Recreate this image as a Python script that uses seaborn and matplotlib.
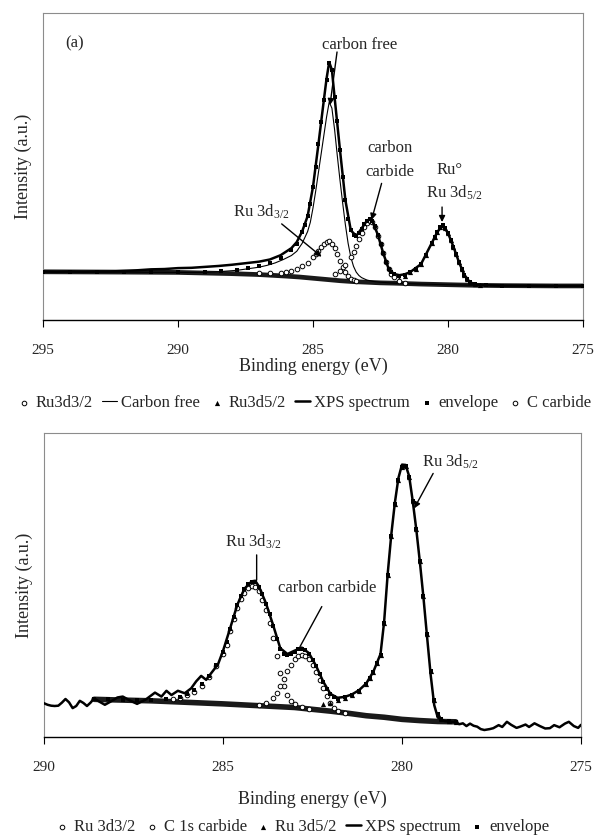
import matplotlib
matplotlib.use("Agg")
import matplotlib.pyplot as plt
import seaborn as sns

# ---------------- top panel (a) ----------------
e_bg_top = [295.0, 292.0, 290.0, 289.0, 288.0, 287.0, 286.0, 285.5, 285.0, 284.5, 284.0,
            283.5, 283.0, 282.5, 282.0, 281.0, 280.0, 279.0, 278.0, 276.0, 275.0]
bg_top = [15.7, 15.6, 15.5, 15.3, 15.1, 14.8, 14.3, 14.0, 13.6, 13.2, 12.8,
          12.5, 12.3, 12.1, 12.0, 11.7, 11.5, 11.3, 11.2, 11.1, 11.1]

e_cf_top = [295.0, 292.0, 290.0, 289.0, 288.4, 287.8, 287.4, 287.0, 286.7, 286.4, 286.1, 285.8,
            285.6, 285.4, 285.2, 285.1, 285.0, 284.9, 284.8, 284.7, 284.6, 284.5, 284.4, 284.3,
            284.2, 284.1, 284.0, 283.9, 283.8, 283.7, 283.6, 283.5, 283.4, 283.3, 283.2, 283.0,
            282.8, 282.5, 282.0, 281.0, 280.0, 279.0, 277.0, 275.0]
cf_top = [15.7, 15.6, 15.5, 15.5, 15.8, 16.2, 16.7, 17.2, 17.8, 18.6, 19.7, 21.0,
          22.4, 25.0, 28.8, 31.8, 36.5, 42.0, 48.0, 54.0, 60.0, 66.0, 71.0, 69.0,
          62.0, 53.5, 45.5, 38.0, 31.0, 25.0, 20.5, 17.5, 15.6, 14.5, 13.8, 13.0,
          12.6, 12.3, 12.0, 11.7, 11.5, 11.3, 11.2, 11.1]

e_r3_top = [287.0, 286.6, 286.2, 286.0, 285.8, 285.6, 285.4, 285.2, 285.0, 284.9, 284.8, 284.7,
            284.6, 284.5, 284.4, 284.3, 284.2, 284.1, 284.0, 283.9, 283.8, 283.7, 283.6, 283.5, 283.4]
r3_top = [15.2, 15.2, 15.3, 15.5, 15.9, 16.5, 17.7, 18.7, 20.5, 21.5, 22.6, 23.8,
          24.8, 25.5, 25.7, 24.9, 23.3, 21.5, 19.3, 17.3, 15.5, 14.3, 13.5, 13.1, 12.7]

e_cc_top = [284.2, 284.0, 283.8, 283.6, 283.5, 283.4, 283.3, 283.2, 283.1, 283.0, 282.9,
            282.8, 282.7, 282.6, 282.5, 282.4, 282.3, 282.2, 282.1, 282.0, 281.8, 281.6]
cc_top = [15.0, 16.1, 17.9, 20.4, 22.2, 24.1, 26.3, 28.4, 30.4, 31.7, 32.3,
          31.8, 30.2, 27.5, 24.7, 21.7, 18.9, 16.6, 15.0, 13.9, 12.7, 12.2]

e_r5_top = [281.8, 281.6, 281.4, 281.2, 281.0, 280.8, 280.6, 280.5, 280.4, 280.3, 280.2, 280.1,
            280.0, 279.9, 279.8, 279.7, 279.6, 279.5, 279.4, 279.3, 279.2, 279.0, 278.8]
r5_top = [13.4, 14.4, 15.6, 16.7, 18.2, 21.2, 25.1, 26.9, 28.6, 30.2, 30.9, 30.1,
          28.3, 26.1, 23.9, 21.5, 19.0, 16.7, 14.8, 13.3, 12.4, 11.6, 11.4]

e_env_top = [295.0, 294.0, 293.0, 292.0, 291.0, 290.0, 289.0, 288.4, 287.8, 287.4,
             287.0, 286.6, 286.2, 285.8, 285.6, 285.4, 285.3, 285.2, 285.1, 285.0,
             284.9, 284.8, 284.7, 284.6, 284.5, 284.4, 284.3, 284.2, 284.1, 284.0,
             283.9, 283.8, 283.7, 283.6, 283.5, 283.4, 283.3, 283.2, 283.1, 283.0,
             282.9, 282.8, 282.7, 282.6, 282.5, 282.4, 282.3, 282.2, 282.1, 282.0,
             281.8, 281.6, 281.4, 281.2, 281.0, 280.8, 280.6, 280.5, 280.4, 280.3,
             280.2, 280.1, 280.0, 279.9, 279.8, 279.7, 279.6, 279.5, 279.4, 279.3,
             279.2, 279.0, 278.6, 278.0, 277.0, 276.0, 275.0]
env_top = [15.7, 15.7, 15.6, 15.6, 15.5, 15.5, 15.5, 15.9, 16.3, 17.0,
           17.6, 18.7, 20.2, 22.7, 24.9, 28.8, 31.1, 33.8, 37.7, 43.4,
           50.0, 57.2, 64.4, 71.5, 78.3, 83.8, 81.5, 72.5, 64.7, 55.3,
           46.7, 39.0, 33.0, 29.2, 27.6, 27.4, 28.4, 29.8, 31.4, 32.4,
           32.8, 32.2, 30.5, 27.8, 24.9, 21.8, 19.0, 16.7, 15.6, 15.0,
           14.3, 14.7, 15.6, 16.7, 18.2, 21.2, 25.1, 26.9, 28.6, 30.2,
           30.9, 30.1, 28.3, 26.1, 23.9, 21.5, 19.0, 16.7, 14.8, 13.3,
           12.4, 11.6, 11.3, 11.2, 11.2, 11.1, 11.1]

e_xps_top = [295.0, 294.5, 294.0, 293.5, 293.0, 292.5, 292.0, 291.5, 291.0, 290.5,
             290.0, 289.5, 289.0, 288.5, 288.0, 287.5, 287.0, 286.6, 286.2, 285.8,
             285.6, 285.4, 285.2, 285.0, 284.8, 284.6, 284.5, 284.4, 284.3, 284.2,
             284.0, 283.8, 283.6, 283.4, 283.2, 283.0, 282.9, 282.8, 282.6, 282.4,
             282.2, 282.0, 281.8, 281.6, 281.4, 281.0, 280.6, 280.4, 280.2, 280.0,
             279.8, 279.6, 279.4, 279.2, 279.0, 278.5, 278.0, 277.0, 276.0, 275.0]
xps_top = [15.8, 15.7, 15.8, 15.7, 15.8, 15.8, 16.0, 16.2, 16.5, 16.6,
           16.9, 17.0, 17.3, 17.6, 18.0, 18.5, 19.0, 19.7, 21.1, 23.4,
           25.4, 28.9, 33.8, 43.4, 57.2, 71.5, 78.5, 84.0, 81.5, 72.5,
           55.3, 39.0, 29.2, 27.4, 29.8, 32.4, 32.8, 32.2, 27.8, 21.8,
           16.7, 15.0, 14.6, 14.9, 15.6, 18.2, 25.1, 28.6, 30.9, 28.3,
           23.9, 19.0, 14.8, 12.4, 11.6, 11.3, 11.2, 11.2, 11.1, 11.1]

# ---------------- bottom panel ----------------
e_bg_bot = [288.6, 288.0, 287.0, 286.0, 285.0, 284.0, 283.0, 282.5, 282.0, 281.5,
            281.0, 280.5, 280.0, 279.5, 279.0, 278.5]
bg_bot = [12.4, 12.2, 11.9, 11.4, 10.9, 10.3, 9.7, 9.1, 8.5, 7.8,
          7.0, 6.5, 5.8, 5.4, 5.1, 5.0]

e_r3_bot = [286.4, 286.2, 286.0, 285.8, 285.6, 285.4, 285.2, 285.0, 284.9, 284.8,
            284.7, 284.6, 284.5, 284.4, 284.3, 284.2, 284.1, 284.0, 283.9, 283.8,
            283.7, 283.6, 283.5, 283.4, 283.3, 283.2, 283.1, 283.0, 282.8, 282.6]
r3_bot = [12.4, 12.9, 13.7, 14.9, 16.8, 19.6, 23.2, 27.4, 30.4, 34.8,
          38.7, 42.5, 45.4, 47.5, 49.0, 49.7, 49.3, 47.9, 45.2, 41.8,
          37.6, 32.6, 26.5, 21.0, 16.7, 13.8, 12.0, 10.9, 9.9, 9.3]

e_cc_bot = [284.0, 283.8, 283.6, 283.5, 283.4, 283.3, 283.2, 283.1, 283.0, 282.9, 282.8,
            282.7, 282.6, 282.5, 282.4, 282.3, 282.2, 282.1, 282.0, 281.9, 281.8, 281.6]
cc_bot = [10.6, 11.1, 12.9, 14.4, 16.7, 19.1, 21.6, 23.8, 25.5, 26.6, 27.0,
          26.7, 25.5, 23.7, 21.4, 18.8, 16.0, 13.4, 11.2, 9.7, 8.7, 8.0]

e_r5_bot = [282.2, 282.0, 281.8, 281.6, 281.4, 281.2, 281.0, 280.9, 280.8, 280.7,
            280.6, 280.5, 280.4, 280.3, 280.2, 280.1, 280.0, 279.9, 279.8, 279.7,
            279.6, 279.5, 279.4, 279.3, 279.2, 279.1, 279.0, 278.9, 278.7, 278.5]
r5_bot = [10.7, 11.3, 12.1, 12.9, 13.8, 15.2, 17.5, 19.3, 21.3, 24.2,
          27.1, 37.5, 53.4, 66.2, 76.6, 84.5, 88.8, 89.0, 85.6, 77.6,
          68.5, 57.9, 46.3, 33.8, 21.7, 12.2, 7.6, 5.9, 5.3, 5.0]

e_env_bot = [288.6, 288.2, 287.8, 287.4, 287.0, 286.6, 286.2, 286.0, 285.8, 285.6,
             285.4, 285.2, 285.0, 284.9, 284.8, 284.7, 284.6, 284.5, 284.4, 284.3,
             284.2, 284.1, 284.0, 283.9, 283.8, 283.7, 283.6, 283.5, 283.4, 283.3,
             283.2, 283.1, 283.0, 282.9, 282.8, 282.7, 282.6, 282.5, 282.4, 282.3,
             282.2, 282.1, 282.0, 281.9, 281.8, 281.6, 281.4, 281.2, 281.0, 280.9,
             280.8, 280.7, 280.6, 280.5, 280.4, 280.3, 280.2, 280.1, 280.0, 279.9,
             279.8, 279.7, 279.6, 279.5, 279.4, 279.3, 279.2, 279.1, 279.0, 278.9,
             278.7, 278.5]
env_bot = [12.4, 12.4, 12.3, 12.3, 12.3, 12.4, 13.3, 14.2, 15.4, 17.4,
           20.2, 23.8, 28.1, 31.1, 35.6, 39.5, 43.4, 46.4, 48.6, 50.2,
           51.0, 51.0, 49.3, 46.9, 43.8, 40.6, 36.6, 32.1, 29.0, 27.2,
           27.0, 27.4, 28.1, 28.8, 28.9, 28.5, 27.3, 25.4, 23.2, 20.7,
           18.0, 15.8, 14.0, 13.0, 12.6, 13.0, 13.8, 15.2, 17.5, 19.3,
           21.3, 24.2, 27.1, 37.5, 53.4, 66.2, 76.6, 84.5, 88.8, 89.0,
           85.6, 77.6, 68.5, 57.9, 46.3, 33.8, 21.7, 12.2, 7.6, 5.9,
           5.3, 5.0]

e_xps_bot = [290.0, 289.9, 289.8, 289.7, 289.6, 289.5, 289.4, 289.3, 289.2, 289.1,
             289.0, 288.9, 288.8, 288.7, 288.6, 288.45, 288.3, 288.1, 287.95, 287.8,
             287.6, 287.4, 287.15, 286.9, 286.72, 286.58, 286.44, 286.26, 286.07, 285.89,
             285.75, 285.61, 285.47, 285.33, 285.14, 285.0, 284.8, 284.6, 284.4, 284.2,
             284.1, 284.0, 283.8, 283.6, 283.4, 283.2, 283.0, 282.8, 282.6, 282.4,
             282.2, 282.0, 281.8, 281.6, 281.4, 281.2, 281.0, 280.8, 280.6, 280.5,
             280.4, 280.3, 280.2, 280.1, 280.0, 279.9, 279.8, 279.7, 279.6, 279.5,
             279.4, 279.3, 279.2, 279.1, 279.0, 278.8, 278.6, 278.5, 278.4, 278.3,
             278.2, 278.1, 278.0, 277.9, 277.8, 277.7, 277.55, 277.45, 277.3, 277.2,
             277.07, 276.95, 276.8, 276.7, 276.55, 276.45, 276.3, 276.15, 276.0, 275.87,
             275.75, 275.6, 275.45, 275.34, 275.2, 275.08, 275.0]
xps_bot = [11.1, 10.6, 10.3, 10.2, 10.3, 11.3, 12.5, 11.4, 9.5, 10.2,
           11.9, 11.2, 10.2, 11.3, 12.7, 11.6, 10.6, 11.9, 13.0, 13.3,
           12.0, 10.9, 12.4, 14.6, 13.3, 15.2, 13.8, 15.2, 14.4, 16.0,
           18.3, 20.1, 18.8, 21.0, 23.9, 28.3, 35.8, 43.5, 48.8, 51.2,
           51.4, 49.6, 44.0, 36.8, 29.2, 27.3, 28.4, 29.4, 27.6, 23.4,
           18.2, 14.2, 12.9, 13.2, 14.0, 15.4, 17.6, 21.5, 27.3, 37.8,
           53.6, 66.5, 77.0, 85.2, 89.6, 89.5, 85.8, 77.6, 68.2, 57.5,
           45.8, 33.0, 20.5, 10.5, 6.4, 5.2, 5.0, 5.0, 4.2, 4.5,
           3.6, 4.4, 3.7, 3.4, 2.6, 2.3, 2.6, 2.9, 3.9, 3.3,
           5.0, 4.0, 3.0, 3.4, 4.1, 3.3, 4.5, 3.6, 2.8, 2.9,
           3.9, 3.2, 4.4, 5.0, 3.6, 3.0, 4.0]

sns.set_style("white")
plt.rcParams['font.family'] = ['Liberation Serif', 'DejaVu Serif']
plt.rcParams['mathtext.fontset'] = 'custom'
plt.rcParams['mathtext.rm'] = 'Liberation Serif'
plt.rcParams['mathtext.it'] = 'Liberation Serif:italic'
plt.rcParams['mathtext.bf'] = 'Liberation Serif:bold'

fig = plt.figure(figsize=(5.98, 8.35), dpi=100)
ax1 = fig.add_axes([43 / 598, 1 - 320 / 835, 540 / 598, 307 / 835])
ax2 = fig.add_axes([44 / 598, 1 - 737 / 835, 537 / 598, 304 / 835])


def circles(ax, x, y, label, z=3):
    sns.scatterplot(x=x, y=y, ax=ax, marker='o', s=11, color='white', edgecolor='black',
                    linewidth=0.7, label=label, zorder=z)


def triangles(ax, x, y, label):
    sns.scatterplot(x=x, y=y, ax=ax, marker='^', s=14, color='black', linewidth=0,
                    label=label, zorder=3)


def squares(ax, x, y, label):
    sns.scatterplot(x=x, y=y, ax=ax, marker='s', s=5, color='black', linewidth=0,
                    label=label, zorder=5)


# top panel
sns.lineplot(x=e_bg_top, y=bg_top, ax=ax1, color='#1a1a1a', lw=3.4, sort=False,
             estimator=None, zorder=2)
circles(ax1, e_r3_top, r3_top, 'Ru3d3/2')
sns.lineplot(x=e_cf_top, y=cf_top, ax=ax1, color='black', lw=0.8, sort=False,
             estimator=None, label='Carbon free', zorder=3)
triangles(ax1, e_r5_top, r5_top, 'Ru3d5/2')
sns.lineplot(x=e_xps_top, y=xps_top, ax=ax1, color='black', lw=1.8, sort=False,
             estimator=None, label='XPS spectrum', zorder=4)
squares(ax1, e_env_top, env_top, 'envelope')
circles(ax1, e_cc_top, cc_top, 'C carbide')

# bottom panel
sns.lineplot(x=e_bg_bot, y=bg_bot, ax=ax2, color='#1a1a1a', lw=4.0, sort=False,
             estimator=None, zorder=2)
circles(ax2, e_r3_bot, r3_bot, 'Ru 3d3/2')
circles(ax2, e_cc_bot, cc_bot, 'C 1s carbide')
triangles(ax2, e_r5_bot, r5_bot, 'Ru 3d5/2')
sns.lineplot(x=e_xps_bot, y=xps_bot, ax=ax2, color='black', lw=1.8, sort=False,
             estimator=None, label='XPS spectrum', zorder=4)
squares(ax2, e_env_bot, env_bot, 'envelope')

for ax, lo, hi, ticks in [(ax1, 295, 275, [295, 290, 285, 280, 275]),
                          (ax2, 290, 275, [290, 285, 280, 275])]:
    ax.set_xlim(lo, hi)
    ax.set_ylim(0, 100)
    ax.set_xticks(ticks)
    ax.set_xticklabels([str(t) for t in ticks])
    ax.set_yticks([])
    ax.tick_params(axis='x', bottom=True, direction='out', length=5, width=0.8,
                   pad=12, labelsize=11, color='black')
    for side in ['left', 'top', 'right']:
        ax.spines[side].set_color('#8c8c8c')
        ax.spines[side].set_linewidth(0.8)
    ax.spines['bottom'].set_color('black')
    ax.spines['bottom'].set_linewidth(1.0)
    ax.set_ylabel('Intensity (a.u.)', fontsize=13, labelpad=8)
    if ax.get_legend() is not None:
        ax.get_legend().remove()

ax1.set_xlabel('Binding energy (eV)', fontsize=13, labelpad=1)
ax2.set_xlabel('Binding energy (eV)', fontsize=13, labelpad=12)

# annotations, top panel
arrow = dict(arrowstyle='-|>', color='black', lw=1.0, mutation_scale=9,
             shrinkA=0, shrinkB=0)
txt = dict(ha='center', va='center', fontsize=12)
ax1.text(293.84, 90.1, '(a)', **txt)
ax1.text(283.26, 89.6, 'carbon free', **txt)
ax1.annotate('', xy=(284.37, 70.0), xytext=(284.11, 87.3), arrowprops=arrow)
ax1.text(282.15, 55.9, 'carbon', **txt)
ax1.text(282.15, 48.3, 'carbide', **txt)
ax1.annotate('', xy=(282.83, 32.6), xytext=(282.46, 44.5), arrowprops=arrow)
ax1.text(286.9, 35.3, r'Ru 3d$_{3/2}$', **txt)
ax1.annotate('', xy=(284.68, 20.6), xytext=(286.16, 31.3), arrowprops=arrow)
ax1.text(279.93, 48.9, 'Ru\u00b0', **txt)
ax1.text(279.78, 41.4, r'Ru 3d$_{5/2}$', **txt)
ax1.annotate('', xy=(280.22, 31.9), xytext=(280.22, 36.8), arrowprops=arrow)

# annotations, bottom panel
plain = dict(arrowstyle='-', color='black', lw=1.0, shrinkA=0, shrinkB=0)
ax2.text(278.65, 90.6, r'Ru 3d$_{5/2}$', **txt)
ax2.annotate('', xy=(279.66, 75.2), xytext=(279.13, 86.7), arrowprops=arrow)
ax2.text(284.15, 64.2, r'Ru 3d$_{3/2}$', **txt)
ax2.annotate('', xy=(284.06, 51.6), xytext=(284.06, 59.9), arrowprops=plain)
ax2.text(282.1, 48.9, 'carbon carbide', **txt)
ax2.annotate('', xy=(282.85, 29.7), xytext=(282.24, 42.9), arrowprops=plain)

# legends below each panel
leg_kw = dict(loc='center', frameon=False, fontsize=12, handlelength=0.9,
              handletextpad=0.25, columnspacing=0.55, borderpad=0, borderaxespad=0)
h1, l1 = ax1.get_legend_handles_labels()
order1 = ['Ru3d3/2', 'Carbon free', 'Ru3d5/2', 'XPS spectrum', 'envelope', 'C carbide']
fig.legend([h1[l1.index(k)] for k in order1], order1, ncol=6,
           bbox_to_anchor=(0.508, 1 - 403 / 835), **leg_kw)
h2, l2 = ax2.get_legend_handles_labels()
order2 = ['Ru 3d3/2', 'C 1s carbide', 'Ru 3d5/2', 'XPS spectrum', 'envelope']
fig.legend([h2[l2.index(k)] for k in order2], order2, ncol=5,
           bbox_to_anchor=(0.505, 1 - 827 / 835), **leg_kw)

fig.savefig('out.png', dpi=100)
